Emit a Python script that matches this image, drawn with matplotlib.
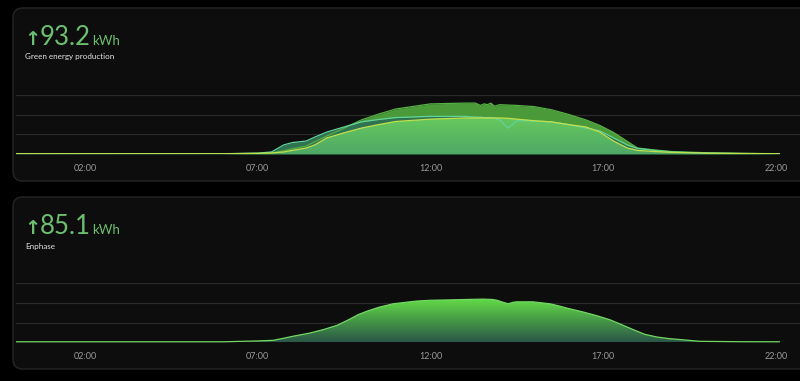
import numpy as np
import matplotlib
matplotlib.use("Agg")
import matplotlib.pyplot as plt
from matplotlib.patches import FancyBboxPatch
from matplotlib.colors import LinearSegmentedColormap

plt.rcParams['font.family'] = ['Lato', 'DejaVu Sans']

# --- data (kW, hours of day) ---
hours = [0, 6, 7, 7.4, 7.75, 8, 8.4, 8.65, 9, 9.5, 10, 10.5, 11, 12, 13, 13.3, 13.45,
         13.55, 13.65, 13.75, 13.85, 14, 14.25, 14.5, 15, 15.5, 16, 16.5, 16.9, 17.3,
         17.7, 18, 18.5, 19, 20, 21, 22.1]
total = [0.05, 0.05, 0.13, 0.25, 0.8, 1.3, 2.0, 3.1, 4.6, 6.6, 8.7, 10.2, 11.5, 12.8,
         13.0, 13.0, 12.4, 12.8, 12.6, 13.0, 12.2, 12.6, 12.5, 12.4, 12.1, 11.3, 10.1,
         8.7, 7.3, 5.5, 3.2, 1.5, 1.0, 0.6, 0.3, 0.15, 0.05]
teal = [0.08, 0.05, 0.2, 0.5, 2.3, 2.9, 3.3, 4.3, 5.6, 6.9, 8.2, 8.8, 9.3, 9.6, 9.6,
        9.4, 9.4, 9.3, 9.3, 9.3, 9.2, 8.7, 6.6, 8.5, 8.4, 8.2, 7.5, 6.6, 5.9, 4.1, 2.3,
        1.4, 0.9, 0.5, 0.2, 0.1, 0.05]
yellow = [0.05, 0.05, 0.13, 0.25, 0.5, 0.9, 1.5, 2.3, 4.1, 5.4, 6.6, 7.5, 8.3, 8.9, 9.2,
          9.2, 9.2, 9.2, 9.2, 9.2, 9.2, 9.2, 9.1, 8.9, 8.5, 8.2, 7.5, 6.9, 5.6, 3.3, 1.5,
          0.9, 0.6, 0.4, 0.2, 0.1, 0.05]

hours_b = [0, 6, 7, 7.45, 7.7, 8.02, 8.5, 8.9, 9.3, 9.67, 9.9, 10.16, 10.5, 10.92, 11.3,
           11.6, 12, 12.57, 13, 13.53, 13.8, 13.93, 14.1, 14.25, 14.4, 14.5, 14.97, 15.46,
           15.7, 15.95, 16.42, 16.8, 17.2, 17.5, 17.87, 18.2, 18.56, 18.9, 19.3, 19.8, 21, 22.1]
enphase = [0.08, 0.08, 0.3, 0.46, 0.9, 1.5, 2.3, 3.2, 4.3, 5.9, 7.0, 7.9, 8.9, 9.8, 10.2,
           10.5, 10.7, 10.8, 10.9, 11.0, 10.9, 10.7, 10.2, 9.8, 10.2, 10.3, 10.3, 9.8,
           9.3, 8.7, 7.7, 6.8, 5.7, 4.6, 3.2, 2.0, 1.3, 0.9, 0.6, 0.2, 0.1, 0.08]

tick_pos = [2, 7, 12, 17, 22]
tick_lbl = ['02:00', '07:00', '12:00', '17:00', '22:00']

W, H = 800, 381
fig = plt.figure(figsize=(8, 3.81), dpi=100, facecolor='black')


def card(y0, y1):
    p = FancyBboxPatch((13 / W, 1 - y1 / H), (830 - 13) / W, (y1 - y0) / H,
                       boxstyle="round,pad=0,rounding_size=0.012",
                       transform=fig.transFigure, facecolor='#0d0d0d',
                       edgecolor='#262626', linewidth=1, mutation_aspect=W / H,
                       zorder=-5)
    fig.patches.append(p)


def grad_fill(ax, x, y, top, bottom, ymax):
    poly = ax.fill_between(x, y, 0, color='none', lw=0)
    cmap = LinearSegmentedColormap.from_list('g', [bottom, top])
    grad = np.linspace(0, 1, 256).reshape(-1, 1)
    im = ax.imshow(grad, cmap=cmap, aspect='auto', origin='lower',
                   extent=[0, 22.7, 0, ymax], zorder=2)
    path = poly.get_paths()[0]
    im.set_clip_path(path, transform=ax.transData)


def setup(ax, base_px):
    ax.set_position([16 / W, 1 - base_px / H, (W - 16) / W, 60 / H])
    ax.set_xlim(0, 22.7)
    ax.set_ylim(-0.15, 15.2)
    ax.set_facecolor('none')
    for s in ax.spines.values():
        s.set_visible(False)
    ax.set_yticks([5, 10, 15])
    ax.set_yticklabels([])
    ax.tick_params(axis='y', length=0)
    ax.grid(axis='y', color='#2a2a2a', linewidth=0.9)
    ax.set_axisbelow(True)
    ax.set_xticks(tick_pos)
    ax.set_xticklabels(tick_lbl, color='#9a9a9a', fontsize=6.5)
    ax.tick_params(axis='x', length=0, pad=7)


card(8, 181)
card(197, 369)

# top chart
ax1 = fig.add_axes([0, 0, 1, 1])
setup(ax1, 154.5)
ax1.fill_between(hours, total, 0, color='#4a9a3a', lw=0, zorder=1)
ax1.plot(hours, total, color='#56b043', lw=0.9, zorder=3)
ax1.fill_between(hours, teal, 0, color='#2f7352', lw=0, zorder=1.5)
grad_fill(ax1, hours, yellow, '#68cc5c', '#4fa867', 10)
ax1.plot(hours, teal, color='#62d49a', lw=0.9, zorder=4)
ax1.plot(hours, yellow, color='#c2df4c', lw=0.9, zorder=4)

# bottom chart
ax2 = fig.add_axes([0, 0, 1, 1])
setup(ax2, 342.7)
grad_fill(ax2, hours_b, enphase, '#62da48', '#2a5646', 11)
ax2.plot(hours_b, enphase, color='#72d862', lw=0.9, zorder=4)

green = '#6cbf70'
for y_val, val, name in [(45, '93.2', 'Green energy production'), (234, '85.1', 'Enphase')]:
    fig.text(24 / W, 1 - y_val / H, '↑', color=green, fontsize=14, ha='left',
             va='baseline', family=['DejaVu Sans'], weight='bold')
    fig.text(40 / W, 1 - y_val / H, val, color=green, fontsize=18.5, ha='left', va='baseline')
    fig.text(92 / W, 1 - y_val / H, 'kWh', color=green, fontsize=9.5, ha='left', va='baseline')
    fig.text(25 / W, 1 - (y_val + 12) / H, name, color='#e6e6e6', fontsize=5.8,
             ha='left', va='center')

fig.savefig('out.png', dpi=100, facecolor='black')
